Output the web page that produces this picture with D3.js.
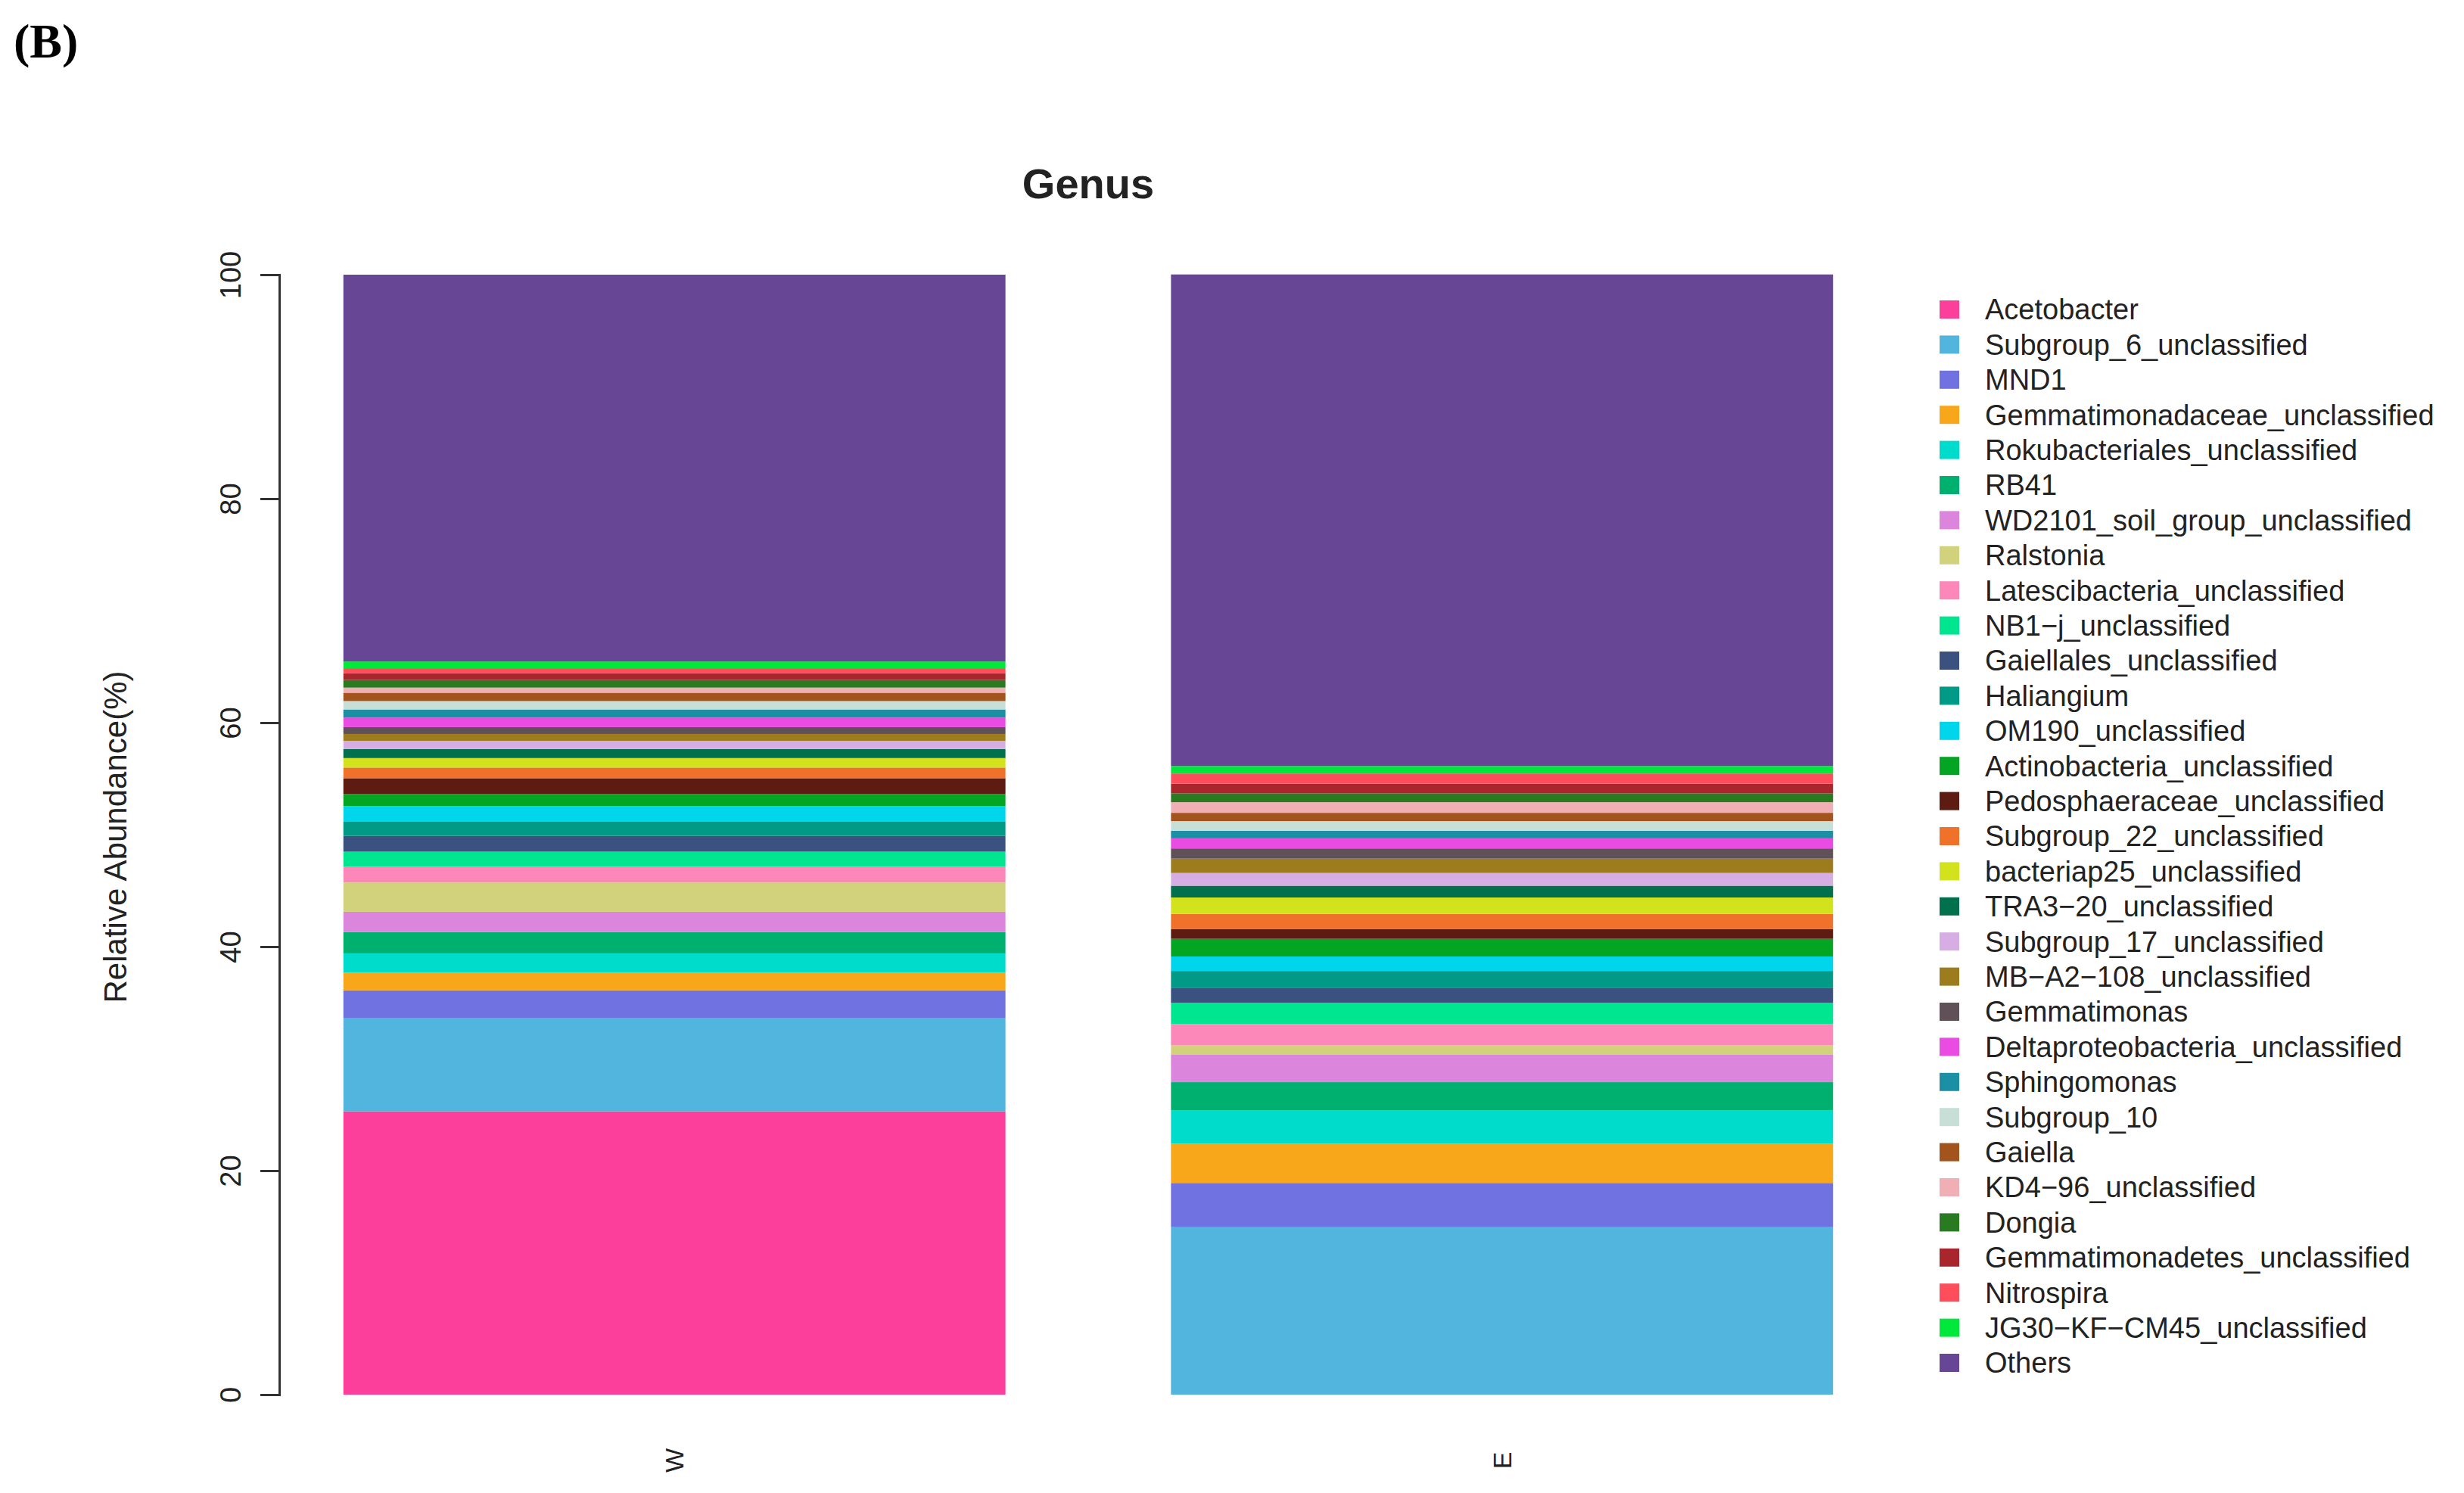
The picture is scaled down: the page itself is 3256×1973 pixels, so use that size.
<!DOCTYPE html>
<html><head><meta charset="utf-8">
<script src="https://cdn.jsdelivr.net/npm/d3@7"></script>
<style>body{margin:0;background:#fff}</style></head>
<body><svg id="c" width="3256" height="1973"></svg>
<script>
const genera = ["Acetobacter","Subgroup_6_unclassified","MND1","Gemmatimonadaceae_unclassified","Rokubacteriales_unclassified","RB41","WD2101_soil_group_unclassified","Ralstonia","Latescibacteria_unclassified","NB1\u2212j_unclassified","Gaiellales_unclassified","Haliangium","OM190_unclassified","Actinobacteria_unclassified","Pedosphaeraceae_unclassified","Subgroup_22_unclassified","bacteriap25_unclassified","TRA3\u221220_unclassified","Subgroup_17_unclassified","MB\u2212A2\u2212108_unclassified","Gemmatimonas","Deltaproteobacteria_unclassified","Sphingomonas","Subgroup_10","Gaiella","KD4\u221296_unclassified","Dongia","Gemmatimonadetes_unclassified","Nitrospira","JG30\u2212KF\u2212CM45_unclassified","Others"];
const colors = ["#fd3f9c","#52b5dd","#6f72e0","#f8a61a","#00dccc","#00b06e","#db85dc","#d3d27c","#fb88b8","#00e690","#3b5281","#009a86","#00d6eb","#03a523","#5e1b12","#f0722a","#d2e21d","#00714c","#d6aee4","#9c7c1c","#605058","#ea4ce3","#1b8fa3","#c8dfd8","#a3531c","#efafb4","#2a7a22","#a8262c","#fe4d5b","#00e93a","#674696"];
const samples = ["W","E"];
const valuesW = [25.3,8.3,2.5,1.58,1.72,1.9,1.81,2.62,1.4,1.35,1.41,1.26,1.4,1.09,1.4,0.95,0.85,0.8,0.74,0.61,0.61,0.86,0.72,0.75,0.74,0.46,0.68,0.6,0.45,0.6,34.54];
const valuesE = [0,14.95,3.95,3.5,3.0,2.5,2.48,0.83,1.87,1.9,1.31,1.54,1.29,1.58,0.86,1.36,1.47,1.05,1.14,1.28,0.91,0.9,0.68,0.86,0.74,0.95,0.79,0.86,0.91,0.67,43.89];
const yTicks = [0,20,40,60,80,100];

const svg = d3.select("#c");
const y = d3.scaleLinear().domain([0,100]).range([1843,363]);
const x = d3.scaleBand().domain(samples).range([410,2466]).paddingInner(0.2).paddingOuter(0.04);

const rows = samples.map((s,i)=>{const v=i?valuesE:valuesW;const o={sample:s};genera.forEach((g,j)=>o[g]=v[j]);return o;});
const stack = d3.stack().keys(genera)(rows);
svg.append("g").selectAll("g").data(stack).join("g").attr("fill",(d,i)=>colors[i])
 .selectAll("rect").data(d=>d).join("rect")
 .attr("x",d=>x(d.data.sample)).attr("width",x.bandwidth())
 .attr("y",d=>y(d[1])).attr("height",d=>Math.max(0,y(d[0])-y(d[1])));

const ax = svg.append("g").attr("transform","translate(369,0)")
 .call(d3.axisLeft(y).tickValues(yTicks).tickSize(25).tickPadding(14));
ax.select(".domain").attr("stroke","#333").attr("stroke-width",3);
ax.selectAll(".tick line").attr("stroke","#333").attr("stroke-width",3);
ax.selectAll(".tick text").attr("font-family","Liberation Sans, Arial").attr("font-size",38).attr("fill","#222")
 .attr("transform",function(d){return `rotate(-90,-39,${y(d)})`;}).attr("x",-39).attr("dy","0.35em").attr("text-anchor","middle").attr("y",null)
 .each(function(d){d3.select(this).attr("y",y(d)-y(d)).attr("x",-60).attr("dy","0.35em");});
ax.selectAll(".tick text").attr("transform","rotate(-90)").attr("x",0).attr("y",-64).attr("dy","0.35em");

svg.append("text").attr("transform","translate(167,1106) rotate(-90)").attr("text-anchor","middle")
 .attr("font-family","Liberation Sans, Arial").attr("font-size",42).attr("fill","#222").text("Relative Abundance(%)");
svg.append("text").attr("x",1438).attr("y",262).attr("text-anchor","middle").attr("font-family","Liberation Sans, Arial")
 .attr("font-weight","bold").attr("font-size",56).attr("fill","#222").text("Genus");
svg.append("text").attr("x",18).attr("y",76).attr("font-family","Liberation Serif, Times New Roman").attr("font-weight","bold")
 .attr("font-size",64).text("(B)");
samples.forEach(s=>{
 svg.append("text").attr("transform",`translate(${x(s)+x.bandwidth()/2},1930) rotate(-90)`).attr("text-anchor","middle")
  .attr("dy","0.35em").attr("font-family","Liberation Sans, Arial").attr("font-size",34).attr("fill","#222").text(s);
});
const lg = svg.append("g");
genera.forEach((g,i)=>{
 const yy = 409 + i*46.4;
 lg.append("rect").attr("x",2563).attr("y",yy-12).attr("width",26).attr("height",24).attr("fill",colors[i]);
 lg.append("text").attr("x",2623).attr("y",yy).attr("dy","0.35em").attr("font-family","Liberation Sans, Arial")
  .attr("font-size",38).attr("fill","#222").text(g);
});
</script></body></html>
